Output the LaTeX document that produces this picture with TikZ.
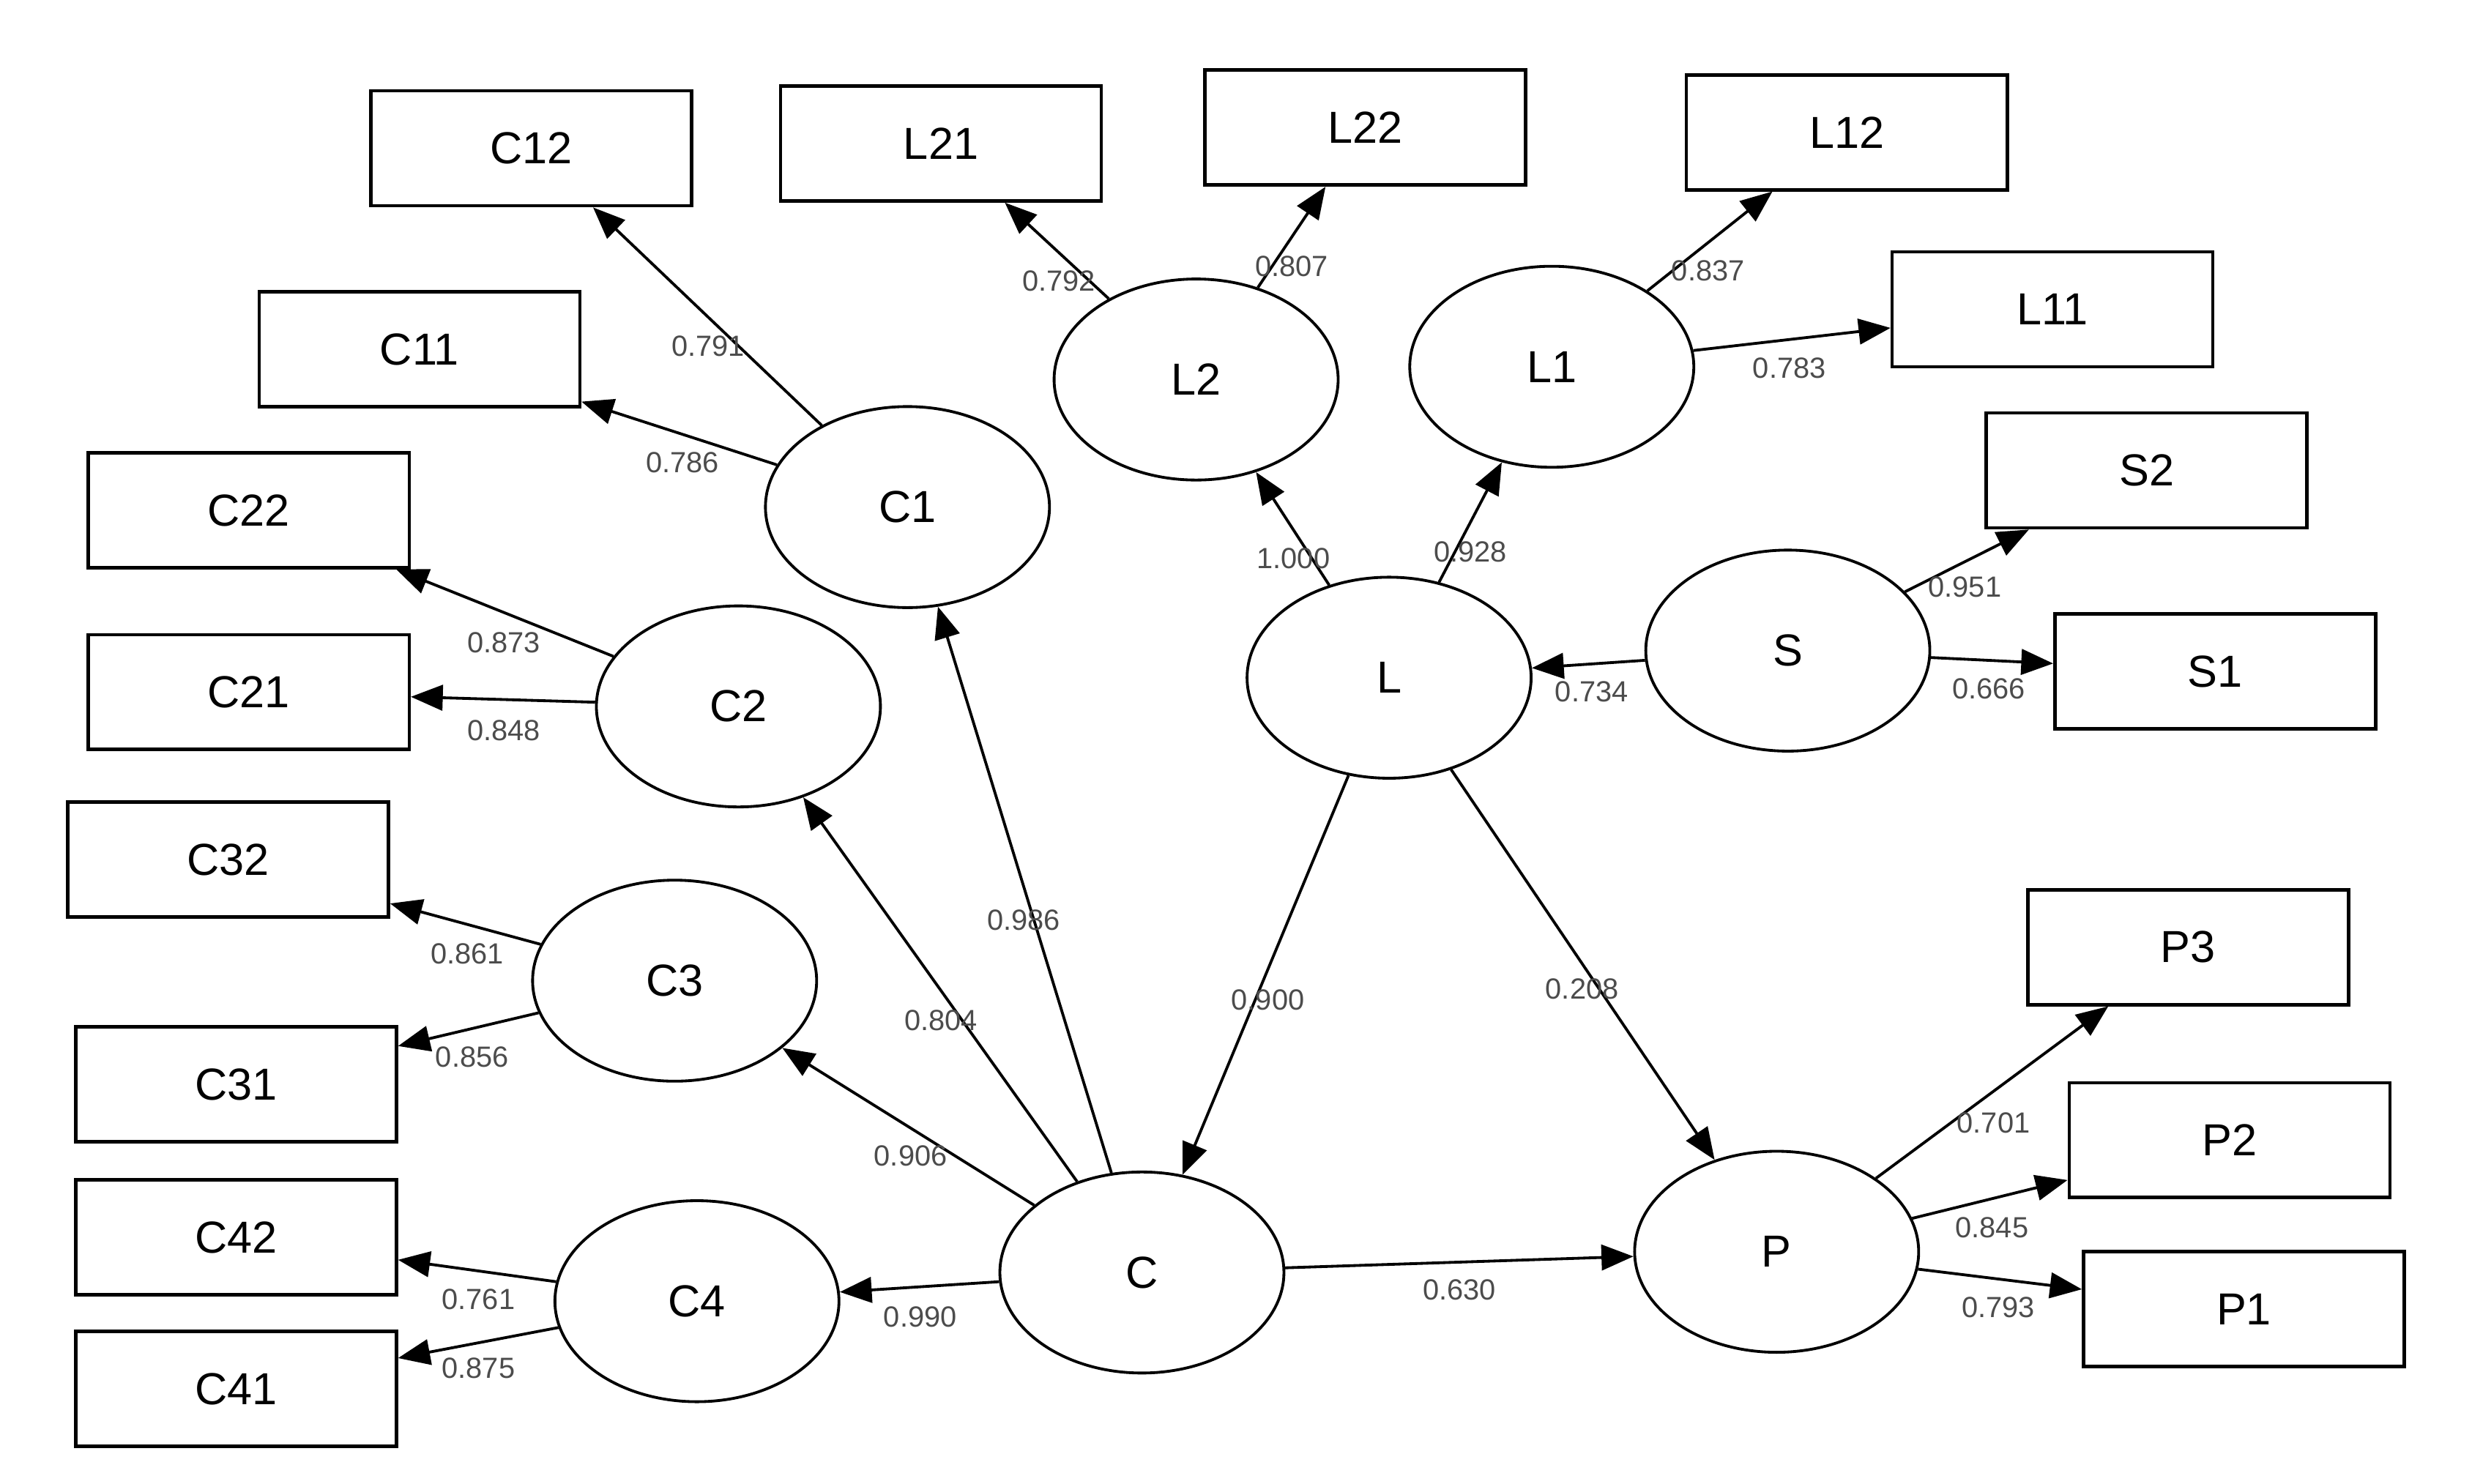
\documentclass[tikz,border=0pt]{standalone}
\usepackage{fontspec}
\setmainfont{Liberation Sans}
\usetikzlibrary{shapes.geometric}
\usetikzlibrary{arrows.meta}

\begin{document}
\begin{tikzpicture}[x=0.01cm, y=-0.01cm,
    item/.style={draw, line width=0.6pt, rectangle,
        minimum width=2.01cm, minimum height=0.72cm,
        inner sep=0pt, font=\fontsize{8}{9}\selectfont},
    factor/.style={draw, line width=0.5pt, ellipse,
        minimum width=1.78cm, minimum height=1.26cm,
        inner sep=0pt, font=\fontsize{8}{9}\selectfont},
    load/.style={draw, line width=0.5pt, -{Triangle[length=2mm, width=1.6mm]}},
    weight/.style={text=black!70, inner sep=0pt, font=\fontsize{5.2}{6}\selectfont},
]
    \useasboundingbox (0, 0) rectangle (1550, 930.6);

    % indicators
    \foreach \name/\x/\y in {C12/333/93, L21/590/90, L22/856/80, L12/1158/83,
        C11/263/219, L11/1287/194, S2/1346/295, C22/156/320, C21/156/434,
        S1/1389/421, C32/143/539, P3/1372/594, C31/148/680, P2/1398/715,
        C42/148/776, P1/1407/821, C41/148/871}
        \node[item] (\name) at (\x, \y) {\name};

    % latent variables
    \foreach \name/\x/\y in {C1/569/318, L2/750/238, L1/973/230, C2/463/443,
        L/871/425, S/1121/408, C3/423/615, C4/437/816, C/716/798, P/1114/785}
        \node[factor] (\name) at (\x, \y) {\name};

    % paths
    \foreach \from/\to/\w/\x/\y in {C1/C12/0.791/444/217, C1/C11/0.786/428/290,
        L2/L21/0.792/664/176, L2/L22/0.807/810/167,
        L1/L12/0.837/1071/170, L1/L11/0.783/1122/231,
        L/L2/1.000/811/350, L/L1/0.928/922/346,
        S/L/0.734/998/434, S/S2/0.951/1232/368, S/S1/0.666/1247/432,
        C2/C22/0.873/316/403, C2/C21/0.848/316/458,
        C3/C32/0.861/293/598, C3/C31/0.856/296/663,
        C4/C42/0.761/300/815, C4/C41/0.875/300/858,
        C/C1/0.986/642/577, C/C2/0.804/590/640, C/C3/0.906/571/725,
        C/C4/0.990/577/826, L/C/0.900/795/627, L/P/0.208/992/620,
        C/P/0.630/915/809, P/P3/0.701/1250/704, P/P2/0.845/1249/770,
        P/P1/0.793/1253/820}
    {
        \draw[load] (\from) -- (\to);
        \node[weight] (w-\from-\to) at (\x, \y) {\w};
    }
\end{tikzpicture}
\end{document}
